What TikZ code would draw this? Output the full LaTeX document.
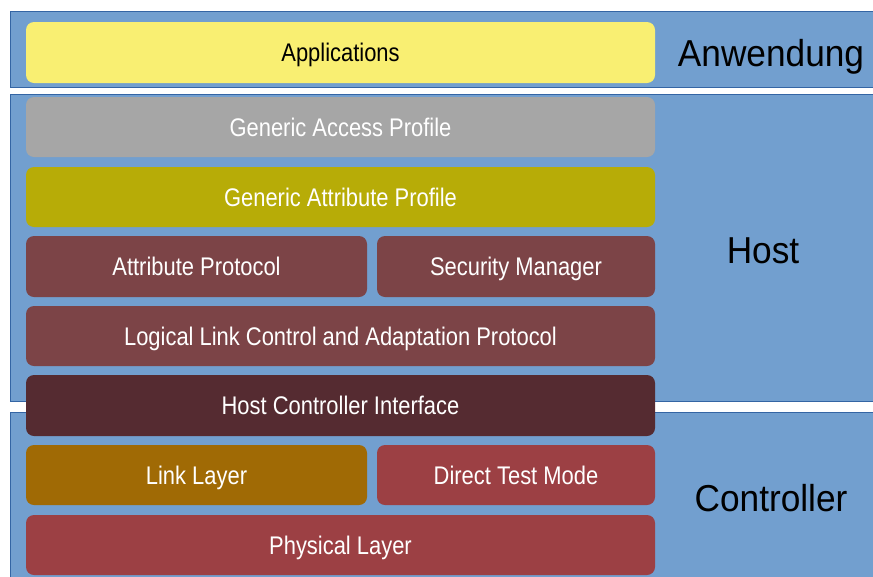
\documentclass[tikz,border=0pt]{standalone}
\usepackage{fontspec}
\setmainfont{Liberation Sans}
\newfontfamily\boxfont[FakeStretch=0.86]{Liberation Sans}
\newfontfamily\bandfont[FakeStretch=0.94]{Liberation Sans}
\definecolor{bandblue}{HTML}{729FCF}
\definecolor{bandline}{HTML}{3465A4}
\definecolor{cyellow}{HTML}{F9EF72}
\definecolor{cgray}{HTML}{A6A6A6}
\definecolor{colive}{HTML}{B7AC07}
\definecolor{cbrown}{HTML}{7C4447}
\definecolor{cdark}{HTML}{552B31}
\definecolor{cochre}{HTML}{A06A05}
\definecolor{cred}{HTML}{9C4044}
\tikzset{
  band/.style={fill=bandblue, draw=bandline, line width=0.8pt},
  layerbox/.style={rounded corners=8pt, inner sep=0pt, text=white,
    font=\boxfont\fontsize{25.5}{28}\selectfont, text height=18.3pt, text depth=0pt,
    minimum height=61pt},
  wide/.style={layerbox, minimum width=629pt},
  bandlabel/.style={font=\bandfont\fontsize{37.5}{42}\selectfont, text=black,
    text height=27pt, text depth=0pt, inner sep=0pt}
}
\begin{document}
\begin{tikzpicture}[x=1pt,y=-1pt]
\useasboundingbox (0,0) rectangle (873,576);
\fill[white] (0,0) rectangle (873,576);
% bands
\draw[band] (10,11) rectangle (875,87);
\draw[band] (10,94) rectangle (875,401);
\draw[band] (10,412) rectangle (875,578);
% layer boxes
\node[wide, fill=cyellow, text=black] (app) at (340.5,52.5) {Applications};
\node[wide, fill=cgray, minimum height=60pt] (gap) at (340.5,127) {Generic Access Profile};
\node[wide, fill=colive, minimum height=60pt] (gatt) at (340.5,197) {Generic Attribute Profile};
\node[layerbox, fill=cbrown, minimum width=341pt] (att) at (196.5,266.5) {Attribute Protocol};
\node[layerbox, fill=cbrown, minimum width=278pt] (sm) at (516,266.5) {Security Manager};
\node[wide, fill=cbrown, minimum height=60pt] (l2cap) at (340.5,336) {Logical Link Control and Adaptation Protocol};
\node[wide, fill=cdark] (hci) at (340.5,405.5) {Host Controller Interface};
\node[layerbox, fill=cochre, minimum width=341pt, minimum height=60pt] (ll) at (196.5,475) {Link Layer};
\node[layerbox, fill=cred, minimum width=278pt, minimum height=60pt] (dtm) at (516,475) {Direct Test Mode};
\node[wide, fill=cred, minimum height=60pt] (phy) at (340.5,545) {Physical Layer};
% band labels
\node[bandlabel] (anw) at (771,52.5) {Anwendung};
\node[bandlabel] (host) at (763,250) {Host};
\node[bandlabel] (ctrl) at (771,498) {Controller};
\end{tikzpicture}
\end{document}
